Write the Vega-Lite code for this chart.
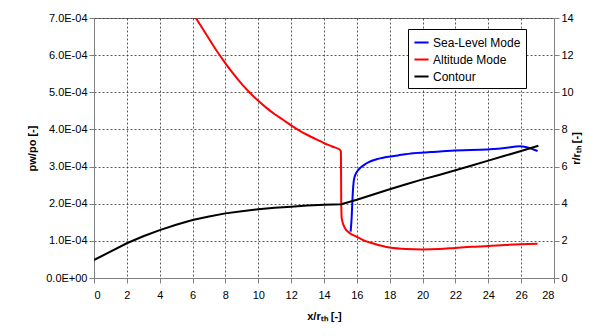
{
  "$schema": "https://vega.github.io/schema/vega-lite/v6.json",
  "autosize": {"type": "none"},
  "padding": {"left": 94, "top": 18, "right": 47, "bottom": 58},
  "width": 460,
  "height": 260,
  "background": "white",
  "config": {
    "font": "Liberation Sans",
    "view": {"stroke": "#808080", "strokeWidth": 1},
    "axis": {
      "labelFont": "Liberation Sans",
      "titleFont": "Liberation Sans",
      "labelFontSize": 11,
      "labelColor": "#000",
      "titleFontSize": 11,
      "titleFontWeight": "bold",
      "titleColor": "#000",
      "domainColor": "#808080",
      "tickColor": "#808080",
      "gridColor": "#333",
      "gridDash": [2, 2],
      "gridOpacity": 0.8,
      "tickSize": 5
    },
    "legend": {"labelFont": "Liberation Sans"}
  },
  "datasets": {
    "p": [
      {"x": 6.2, "p": 0.000700, "series": "Altitude Mode"},
      {"x": 7.0, "p": 0.000644, "series": "Altitude Mode"},
      {"x": 7.57, "p": 0.000605, "series": "Altitude Mode"},
      {"x": 8.0, "p": 0.000578, "series": "Altitude Mode"},
      {"x": 8.5, "p": 0.000549, "series": "Altitude Mode"},
      {"x": 9.0, "p": 0.000522, "series": "Altitude Mode"},
      {"x": 9.5, "p": 0.000498, "series": "Altitude Mode"},
      {"x": 10.0, "p": 0.000477, "series": "Altitude Mode"},
      {"x": 10.5, "p": 0.000458, "series": "Altitude Mode"},
      {"x": 11.0, "p": 0.000441, "series": "Altitude Mode"},
      {"x": 11.5, "p": 0.000426, "series": "Altitude Mode"},
      {"x": 12.0, "p": 0.000411, "series": "Altitude Mode"},
      {"x": 12.5, "p": 0.000397, "series": "Altitude Mode"},
      {"x": 13.0, "p": 0.000385, "series": "Altitude Mode"},
      {"x": 13.5, "p": 0.000374, "series": "Altitude Mode"},
      {"x": 14.0, "p": 0.000363, "series": "Altitude Mode"},
      {"x": 14.5, "p": 0.000354, "series": "Altitude Mode"},
      {"x": 14.97, "p": 0.000345, "series": "Altitude Mode"},
      {"x": 15.03, "p": 0.000340, "series": "Altitude Mode"},
      {"x": 15.05, "p": 0.000200, "series": "Altitude Mode"},
      {"x": 15.08, "p": 0.000160, "series": "Altitude Mode"},
      {"x": 15.28, "p": 0.000134, "series": "Altitude Mode"},
      {"x": 15.6, "p": 0.000120, "series": "Altitude Mode"},
      {"x": 16.0, "p": 0.000111, "series": "Altitude Mode"},
      {"x": 16.5, "p": 0.000100, "series": "Altitude Mode"},
      {"x": 17.0, "p": 0.000093, "series": "Altitude Mode"},
      {"x": 18.0, "p": 0.000082, "series": "Altitude Mode"},
      {"x": 19.0, "p": 0.000078, "series": "Altitude Mode"},
      {"x": 20.0, "p": 0.000077, "series": "Altitude Mode"},
      {"x": 21.0, "p": 0.000078, "series": "Altitude Mode"},
      {"x": 22.0, "p": 0.000081, "series": "Altitude Mode"},
      {"x": 23.0, "p": 0.000084, "series": "Altitude Mode"},
      {"x": 24.0, "p": 0.000086, "series": "Altitude Mode"},
      {"x": 25.0, "p": 0.000089, "series": "Altitude Mode"},
      {"x": 26.0, "p": 0.000091, "series": "Altitude Mode"},
      {"x": 27.0, "p": 0.000092, "series": "Altitude Mode"},
      {"x": 15.62, "p": 0.000125, "series": "Sea-Level Mode"},
      {"x": 15.68, "p": 0.000160, "series": "Sea-Level Mode"},
      {"x": 15.74, "p": 0.000219, "series": "Sea-Level Mode"},
      {"x": 15.82, "p": 0.000264, "series": "Sea-Level Mode"},
      {"x": 15.95, "p": 0.000282, "series": "Sea-Level Mode"},
      {"x": 16.09, "p": 0.000291, "series": "Sea-Level Mode"},
      {"x": 16.6, "p": 0.000309, "series": "Sea-Level Mode"},
      {"x": 17.4, "p": 0.000322, "series": "Sea-Level Mode"},
      {"x": 18.5, "p": 0.000330, "series": "Sea-Level Mode"},
      {"x": 19.43, "p": 0.000336, "series": "Sea-Level Mode"},
      {"x": 20.5, "p": 0.000339, "series": "Sea-Level Mode"},
      {"x": 21.47, "p": 0.000342, "series": "Sea-Level Mode"},
      {"x": 22.5, "p": 0.000344, "series": "Sea-Level Mode"},
      {"x": 23.5, "p": 0.000345, "series": "Sea-Level Mode"},
      {"x": 24.3, "p": 0.000347, "series": "Sea-Level Mode"},
      {"x": 25.0, "p": 0.000350, "series": "Sea-Level Mode"},
      {"x": 25.93, "p": 0.000355, "series": "Sea-Level Mode"},
      {"x": 26.33, "p": 0.000352, "series": "Sea-Level Mode"},
      {"x": 27.0, "p": 0.000342, "series": "Sea-Level Mode"}
    ],
    "r": [
      {"x": 0, "r": 0.97, "series": "Contour"},
      {"x": 1, "r": 1.42, "series": "Contour"},
      {"x": 2, "r": 1.87, "series": "Contour"},
      {"x": 3, "r": 2.25, "series": "Contour"},
      {"x": 4, "r": 2.58, "series": "Contour"},
      {"x": 5, "r": 2.87, "series": "Contour"},
      {"x": 6, "r": 3.12, "series": "Contour"},
      {"x": 7, "r": 3.31, "series": "Contour"},
      {"x": 8, "r": 3.48, "series": "Contour"},
      {"x": 9, "r": 3.6, "series": "Contour"},
      {"x": 10, "r": 3.7, "series": "Contour"},
      {"x": 11, "r": 3.78, "series": "Contour"},
      {"x": 12, "r": 3.84, "series": "Contour"},
      {"x": 13, "r": 3.9, "series": "Contour"},
      {"x": 14, "r": 3.94, "series": "Contour"},
      {"x": 15.05, "r": 3.97, "series": "Contour"},
      {"x": 16, "r": 4.21, "series": "Contour"},
      {"x": 17, "r": 4.5, "series": "Contour"},
      {"x": 18, "r": 4.78, "series": "Contour"},
      {"x": 19, "r": 5.05, "series": "Contour"},
      {"x": 20, "r": 5.31, "series": "Contour"},
      {"x": 21, "r": 5.55, "series": "Contour"},
      {"x": 22, "r": 5.8, "series": "Contour"},
      {"x": 23, "r": 6.06, "series": "Contour"},
      {"x": 24, "r": 6.32, "series": "Contour"},
      {"x": 25, "r": 6.58, "series": "Contour"},
      {"x": 26, "r": 6.84, "series": "Contour"},
      {"x": 27.05, "r": 7.12, "series": "Contour"}
    ]
  },
  "encoding": {
    "x": {
      "field": "x", "type": "quantitative",
      "scale": {"domain": [0, 28], "nice": false},
      "axis": {"values": [0,2,4,6,8,10,12,14,16,18,20,22,24,26,28], "title": "x/rₜₕ [-]", "titlePadding": 10, "labelPadding": 6}
    },
    "color": {
      "field": "series", "type": "nominal",
      "scale": {"domain": ["Sea-Level Mode", "Altitude Mode", "Contour"], "range": ["#0000ff", "#ff0000", "#000000"]},
      "legend": {
        "title": null,
        "orient": "none",
        "legendX": 314,
        "legendY": 11,
        "symbolType": "stroke",
        "symbolStrokeWidth": 2,
        "symbolSize": 200,
        "labelFontSize": 12,
        "labelColor": "#000",
        "fillColor": "white",
        "strokeColor": "#000",
        "padding": 5,
        "rowPadding": 2,
        "labelOffset": 3
      }
    }
  },
  "layer": [
    {
      "data": {"name": "p"},
      "mark": {"type": "line", "strokeWidth": 2, "clip": true, "interpolate": "monotone"},
      "encoding": {
        "y": {
          "field": "p", "type": "quantitative",
          "scale": {"domain": [0, 0.0007], "nice": false},
          "axis": {
            "values": [0, 0.0001, 0.0002, 0.0003, 0.0004, 0.0005, 0.0006, 0.0007],
            "labelExpr": "replace(replace(upper(format(datum.value, '.1e')), 'E-', 'E-0'), 'E+', 'E+0')",
            "title": "pw/po [-]",
            "titlePadding": 8
          }
        },
        "order": {"field": "x", "type": "quantitative"}
      }
    },
    {
      "data": {"name": "r"},
      "mark": {"type": "line", "strokeWidth": 2, "clip": true},
      "encoding": {
        "y": {
          "field": "r", "type": "quantitative",
          "scale": {"domain": [0, 14], "nice": false},
          "axis": {
            "orient": "right",
            "values": [0, 2, 4, 6, 8, 10, 12, 14],
            "grid": false,
            "title": "r/rₜₕ [-]",
            "titleAngle": 270,
            "titlePadding": 8
          }
        },
        "order": {"field": "x", "type": "quantitative"}
      }
    }
  ],
  "resolve": {"scale": {"y": "independent"}}
}
